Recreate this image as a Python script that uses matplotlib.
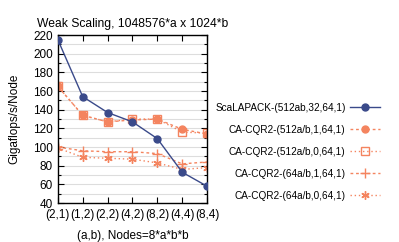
import matplotlib
matplotlib.use("Agg")
import matplotlib.pyplot as plt
from matplotlib.ticker import MultipleLocator

plt.rcParams['font.family'] = ['Liberation Sans', 'DejaVu Sans']

categories = ["(2,1)", "(1,2)", "(2,2)", "(4,2)", "(8,2)", "(4,4)", "(8,4)"]
scalapack = [215, 154, 137, 127, 109, 73, 58]
cqr2_512_1 = [165, 134, 127, 129, 130, 119, 114]
cqr2_512_0 = [165, 134, 127, 130, 130, 116, 115]
cqr2_64_1 = [100, 96, 95, 95, 93, 82, 84]
cqr2_64_0 = [99, 89, 88, 87, 83, 76, 78]
labels = ["ScaLAPACK-(512ab,32,64,1)", "CA-CQR2-(512a/b,1,64,1)",
          "CA-CQR2-(512a/b,0,64,1)", "CA-CQR2-(64a/b,1,64,1)",
          "CA-CQR2-(64a/b,0,64,1)"]

blue = "#3a4a8a"
orange = "#f4845f"

fig = plt.figure(figsize=(3.99, 2.42), dpi=100)
ax = fig.add_axes([0.145, 0.161, 0.374, 0.694])
x = list(range(len(categories)))

ax.plot(x, scalapack, color=blue, lw=1.0, marker='o', ms=5, label=labels[0], zorder=5)
ax.plot(x, cqr2_512_1, color=orange, lw=1.0, ls=(0, (2, 2)), marker='o', ms=5, label=labels[1])
ax.plot(x, cqr2_512_0, color=orange, lw=1.0, ls=(0, (1, 2)), marker='s', ms=6,
        mfc='none', mew=1.0, label=labels[2])
ax.plot(x, cqr2_64_1, color=orange, lw=1.0, ls=(0, (2, 2)), marker='+', ms=7, mew=1.0, label=labels[3])
ax.plot(x, cqr2_64_0, color=orange, lw=1.0, ls=(0, (1, 2)), marker=(6, 2, 0), ms=6, mew=1.0, label=labels[4])

ax.set_xlim(0, len(categories) - 1)
ax.set_ylim(40, 220)
ax.set_xticks(x)
ax.set_xticklabels(categories, fontsize=8.5)
ax.yaxis.set_major_locator(MultipleLocator(20))
ax.yaxis.set_minor_locator(MultipleLocator(10))
ax.tick_params(axis='y', labelsize=8.5)
ax.tick_params(axis='x', pad=4)
ax.tick_params(which='both', direction='in', top=True, right=True, length=4, width=0.8)
ax.tick_params(which='minor', length=2)
ax.grid(True, which='both', axis='y', color='#dddddd', lw=0.8)
ax.set_axisbelow(True)
for s in ax.spines.values():
    s.set_linewidth(1.0)

ax.set_title("Weak Scaling, 1048576*a x 1024*b", fontsize=8.7, pad=6)
ax.set_ylabel("Gigaflops/s/Node", fontsize=8.5, labelpad=9)
ax.set_xlabel("(a,b), Nodes=8*a*b*b", fontsize=8.5, labelpad=7)

fig.legend(loc='center right', bbox_to_anchor=(0.975, 0.372), frameon=False,
           markerfirst=False, fontsize=7.2, handlelength=3.0, labelspacing=1.2,
           handletextpad=0.45)

fig.savefig("out.png", dpi=100)
